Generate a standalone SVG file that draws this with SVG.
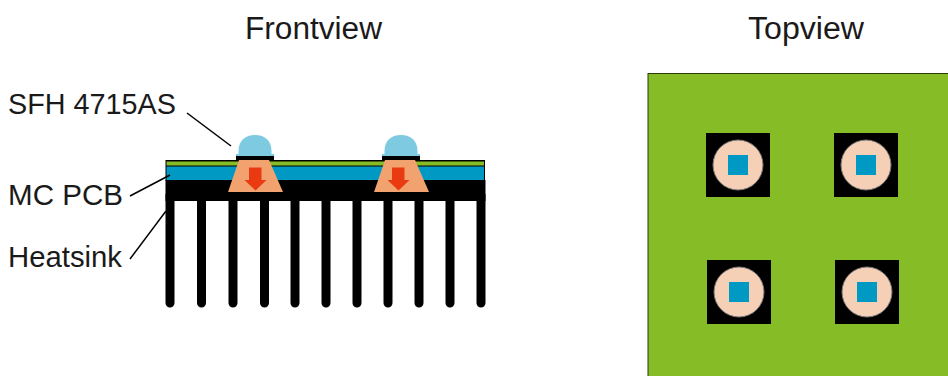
<svg xmlns="http://www.w3.org/2000/svg" width="948" height="376" viewBox="0 0 948 376">
<style>
text{font-family:"Liberation Sans",Arial,sans-serif;fill:#1a1a1a}
.title{font-size:31px}
.label{font-size:29px}
.fin{fill:none;stroke:#000;stroke-width:9;stroke-linecap:round}
.lead{fill:none;stroke:#000;stroke-width:1.500}
.dome{fill:#7ecae1}
.cone{fill:#f2a26e}
.arrow{fill:#e93a12}
.pad{fill:#000}
.disc{fill:#f6d0b6;stroke:#777;stroke-width:1}
.die{fill:#0099c4}
</style>
<defs>
<g id="led">
<path class="dome" d="M238.500 155V151C238.500 141 245 135 255 135S271.500 141 271.500 151V155Z"/>
<rect class="dome" x="236" y="154" width="38" height="3"/>
<rect class="pad" x="236" y="156" width="38" height="5"/>
<path class="cone" d="M239 160H269L283 192H228Z"/>
</g>
<path id="arrow" class="arrow" d="M249 167.500H261.500V180H266.500L255.500 190.500L244.500 180H249Z"/>
<g id="cell">
<rect class="pad" x="0" y="0" width="64" height="64"/>
<circle class="disc" cx="32" cy="32" r="25"/>
<rect class="die" x="22" y="22" width="20" height="20"/>
</g>
</defs>
<g id="heatsink">
<rect x="165.500" y="180" width="320" height="21" fill="#000"/>
<path class="fin" d="M170 195V303M201.500 195V303M233 195V303M264.500 195V303M295 195V303M326 195V303M357 195V303M388 195V303M419 195V303M450 195V303M481 195V303"/>
</g>
<g id="mc-pcb">
<rect x="165.500" y="160" width="319.500" height="21" fill="#000"/>
<rect x="166.500" y="161.500" width="317.500" height="4" fill="#86bc25"/>
<rect x="166.500" y="166.500" width="317.500" height="13.500" fill="#0099c4"/>
</g>
<g id="led-1"><use href="#led"/><use href="#arrow"/></g>
<g id="led-2"><use href="#led" x="146"/><use href="#arrow" x="143"/></g>
<g id="connectors">
<path class="lead" d="M187 113L231 146"/>
<path class="lead" d="M130 196L170 175"/>
<path class="lead" d="M130 259L166 211"/>
</g>
<g id="labels">
<text class="title" x="245" y="39" textLength="137" lengthAdjust="spacingAndGlyphs">Frontview</text>
<text class="title" x="748" y="39" textLength="116" lengthAdjust="spacingAndGlyphs">Topview</text>
<text class="label" x="8" y="114" textLength="168" lengthAdjust="spacingAndGlyphs">SFH 4715AS</text>
<text class="label" x="8" y="205" textLength="115" lengthAdjust="spacingAndGlyphs">MC PCB</text>
<text class="label" x="8" y="267" textLength="114" lengthAdjust="spacingAndGlyphs">Heatsink</text>
</g>
<g id="board"><rect x="648" y="73.500" width="301" height="304" fill="#86bc25" stroke="#2a3a08" stroke-width="1"/></g>
<g id="cell-1"><use href="#cell" x="706" y="133"/></g>
<g id="cell-2"><use href="#cell" x="834" y="133"/></g>
<g id="cell-3"><use href="#cell" x="707" y="260"/></g>
<g id="cell-4"><use href="#cell" x="835" y="260"/></g>
</svg>
